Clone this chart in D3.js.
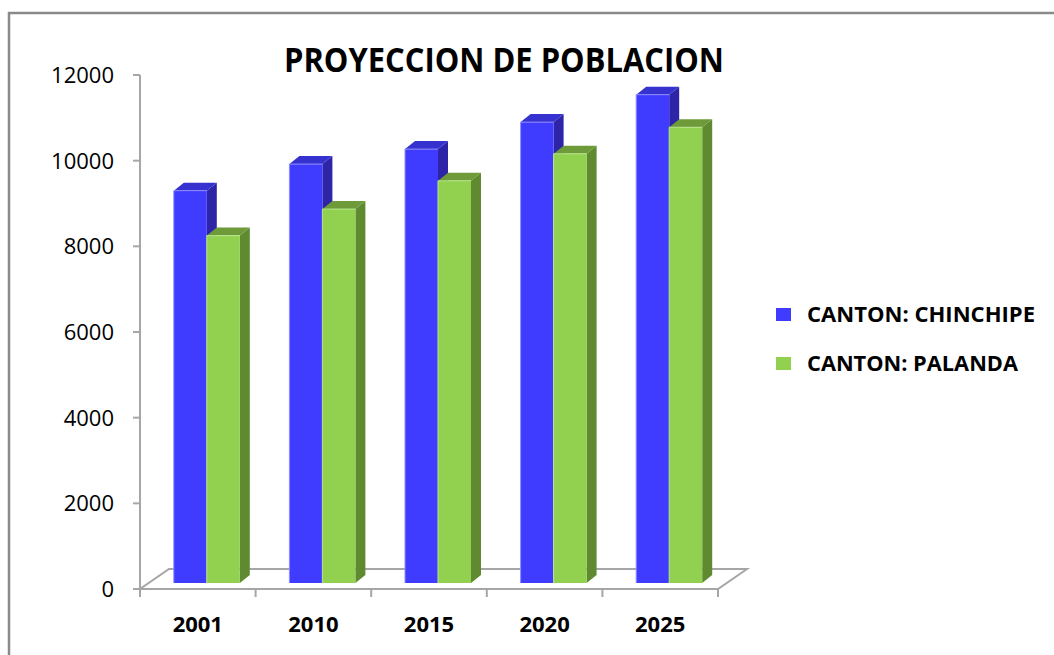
<!DOCTYPE html>
<html>
<head>
<meta charset="utf-8">
<script src="https://cdn.jsdelivr.net/npm/d3@7"></script>
<style>
  body { margin: 0; background: #fff; }
  text { font-family: "Open Sans", sans-serif; fill: #000; }
</style>
</head>
<body>
<div id="vis"></div>
<script>
// data
var years = ["2001", "2010", "2015", "2020", "2025"];
var chinchipe = [9160, 9780, 10130, 10760, 11400];
var palanda = [8110, 8730, 9390, 10020, 10640];
var seriesNames = ["CANTON: CHINCHIPE", "CANTON: PALANDA"];
var yTicks = [0, 2000, 4000, 6000, 8000, 10000, 12000];

var width = 1054, height = 655;

var svg = d3.select("#vis").append("svg")
    .attr("width", width)
    .attr("height", height);

// outer frame
svg.append("rect")
    .attr("x", 9).attr("y", 13)
    .attr("width", 1100).attr("height", 700)
    .attr("fill", "none")
    .attr("stroke", "#8a8a8a")
    .attr("stroke-width", 2.5);

var x = d3.scaleBand().domain(years).range([140, 718]);
var y = d3.scaleLinear().domain([0, 12000]).range([589, 75]);

// floor depth and bar depth (fake 3d)
var floorDx = 29, floorDy = -20;
var frontDx = 9, frontDy = -6;
var barDx = 10, barDy = -8;
var barW = 33;

var faces = [
    { front: "#3f3cff", top: "#3632d0", side: "#2d24a8", edge: "#8f8cff" },
    { front: "#92d050", top: "#6e9a3a", side: "#5f8a30", edge: "#b8e68c" }
];

// floor
var floor = svg.append("g").attr("fill", "none").attr("stroke", "#a6a6a6").attr("stroke-width", 2);
floor.append("path")
    .attr("d", "M" + x.range()[0] + "," + y(0) +
        " L" + x.range()[1] + "," + y(0) +
        " l" + floorDx + "," + floorDy +
        " L" + (x.range()[0] + floorDx) + "," + (y(0) + floorDy) + " Z");

// axes lines and ticks
var axis = svg.append("g").attr("stroke", "#a6a6a6").attr("stroke-width", 2);
axis.append("line")
    .attr("x1", 140).attr("x2", 140)
    .attr("y1", y(12000)).attr("y2", y(0) + 8);
axis.selectAll(".yt").data(yTicks).enter().append("line")
    .attr("x1", 133).attr("x2", 140)
    .attr("y1", d => y(d)).attr("y2", d => y(d));
axis.selectAll(".xt").data(years.concat(["end"])).enter().append("line")
    .attr("x1", (d, i) => x.range()[0] + i * x.bandwidth())
    .attr("x2", (d, i) => x.range()[0] + i * x.bandwidth())
    .attr("y1", y(0)).attr("y2", y(0) + 8);

// y labels
svg.selectAll(".ylab").data(yTicks).enter().append("text")
    .attr("x", 114)
    .attr("y", d => y(d) + 8)
    .attr("text-anchor", "end")
    .attr("font-size", 22)
    .text(d => d);

// x labels
svg.selectAll(".xlab").data(years).enter().append("text")
    .attr("x", d => x(d) + x.bandwidth() / 2)
    .attr("y", 632)
    .attr("text-anchor", "middle")
    .attr("font-size", 22)
    .attr("font-weight", "bold")
    .text(d => d);

// bars
function bar(g, x0, v, c) {
    var x1 = x0 + barW;
    var yt = y(v) + frontDy, yb = y(0) + frontDy;
    g.append("path")
        .attr("d", "M" + x1 + "," + yb + " L" + x1 + "," + yt + " l" + barDx + "," + barDy +
            " L" + (x1 + barDx) + "," + (yb + barDy) + " Z")
        .attr("fill", c.side);
    g.append("path")
        .attr("d", "M" + x0 + "," + yt + " L" + x1 + "," + yt + " l" + barDx + "," + barDy +
            " L" + (x0 + barDx) + "," + (yt + barDy) + " Z")
        .attr("fill", c.top);
    g.append("rect")
        .attr("x", x0).attr("y", yt)
        .attr("width", barW).attr("height", yb - yt)
        .attr("fill", c.front);
    g.append("path")
        .attr("d", "M" + x0 + "," + yb + " L" + x0 + "," + yt + " L" + x1 + "," + yt)
        .attr("fill", "none").attr("stroke", c.edge).attr("stroke-width", 1);
}

var bars = svg.append("g");
years.forEach(function(yr, i) {
    var cx = x(yr) + x.bandwidth() / 2 + frontDx;
    bar(bars, cx - barW, chinchipe[i], faces[0]);
    bar(bars, cx, palanda[i], faces[1]);
});

// title
svg.append("text")
    .attr("x", 504).attr("y", 72)
    .attr("text-anchor", "middle")
    .attr("font-size", 34)
    .attr("font-weight", "bold")
    .attr("textLength", 440)
    .attr("lengthAdjust", "spacingAndGlyphs")
    .text("PROYECCION DE POBLACION");

// legend
var legend = svg.selectAll(".leg").data(seriesNames).enter().append("g")
    .attr("transform", (d, i) => "translate(776," + (308 + i * 49) + ")");
legend.append("rect")
    .attr("width", 15).attr("height", 13)
    .attr("fill", (d, i) => faces[i].front);
legend.append("text")
    .attr("x", 31).attr("y", 14)
    .attr("font-size", 22)
    .attr("font-weight", "bold")
    .attr("textLength", (d, i) => i === 0 ? 228 : 211)
    .attr("lengthAdjust", "spacingAndGlyphs")
    .text(d => d);
</script>
</body>
</html>
